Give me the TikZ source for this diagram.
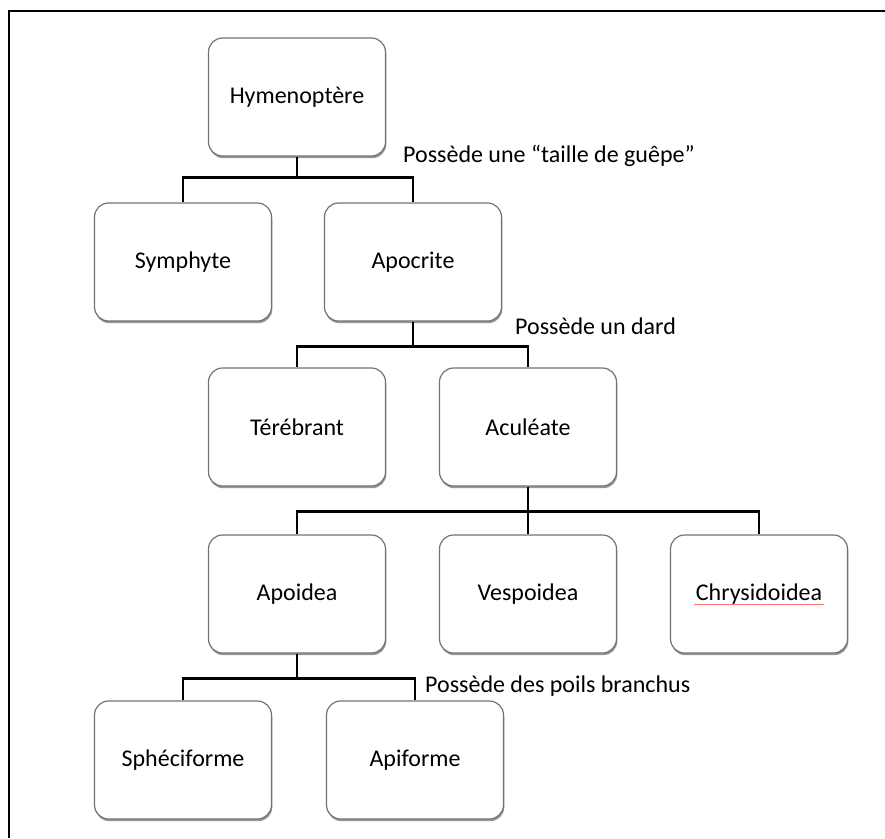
\documentclass[tikz,border=0pt]{standalone}
\usepackage{xcolor}
\usepackage{fontspec}
\setmainfont{Carlito}
\usepackage{tikz}
\usetikzlibrary{calc}
\usetikzlibrary{shadows}
\tikzset{>=latex}
\tikzstyle{taxon} = [rectangle, rounded corners = 14pt, draw = black!55, line width = 1.2pt, fill = white, minimum width = 177pt, minimum height = 118pt, inner sep = 0pt, font = \fontsize{24}{28}\selectfont, drop shadow = {shadow xshift = 0.8pt, shadow yshift = -2.2pt, fill = black!45, opacity = 0.9}]
\tikzstyle{link} = [-, draw = black, line width = 2.6pt]
\tikzstyle{trait} = [draw = none, inner sep = 0pt, font = \fontsize{24}{28}\selectfont]

\begin{document}
\begin{tikzpicture}[x = 1pt, y = -1pt]
\useasboundingbox (0, 0) rectangle (885, 838);
\draw [line width = 2.4pt] (885, 11) -- (9, 11) -- (9, 838);
\node [taxon] (hym) at (297, 97) {Hymenoptère};
\node [taxon] (sym) at (183, 262) {Symphyte};
\node [taxon] (apo) at (413, 262) {Apocrite};
\node [taxon] (ter) at (297, 427) {Térébrant};
\node [taxon] (acu) at (528, 427) {Aculéate};
\node [taxon] (apoi) at (297, 594) {Apoidea};
\node [taxon] (vesp) at (528, 594) {Vespoidea};
\node [taxon] (chry) at (759, 594) {Chrysidoidea};
\node [taxon] (sphe) at (183, 760) {Sphéciforme};
\node [taxon] (apif) at (415, 760) {Apiforme};
\node [trait, anchor = base west] (taille) at (403, 162) {Possède une “taille de guêpe”};
\node [trait, anchor = base west] (dard) at (515, 334) {Possède un dard};
\node [trait, anchor = base west] (poils) at (425, 692) {Possède des poils branchus};
\draw [link] (hym.south) -- ++(0, 21) -| (sym.north);
\draw [link] (hym.south) -- ++(0, 21) -| (apo.north);
\draw [link] (apo.south) -- ++(0, 25) -| (ter.north);
\draw [link] (apo.south) -- ++(0, 25) -| (acu.north);
\draw [link] (acu.south) -- ++(0, 25) -| (apoi.north);
\draw [link] (acu.south) -- (vesp.north);
\draw [link] (acu.south) -- ++(0, 25) -| (chry.north);
\draw [link] (apoi.south) -- ++(0, 25) -| (sphe.north);
\draw [link] (apoi.south) -- ++(0, 25) -| (apif.north);
\draw [red!55, line width = 0.9pt] ($(chry.center) + (-65, 10)$) -- ($(chry.center) + (65, 10)$);
\end{tikzpicture}
\end{document}
